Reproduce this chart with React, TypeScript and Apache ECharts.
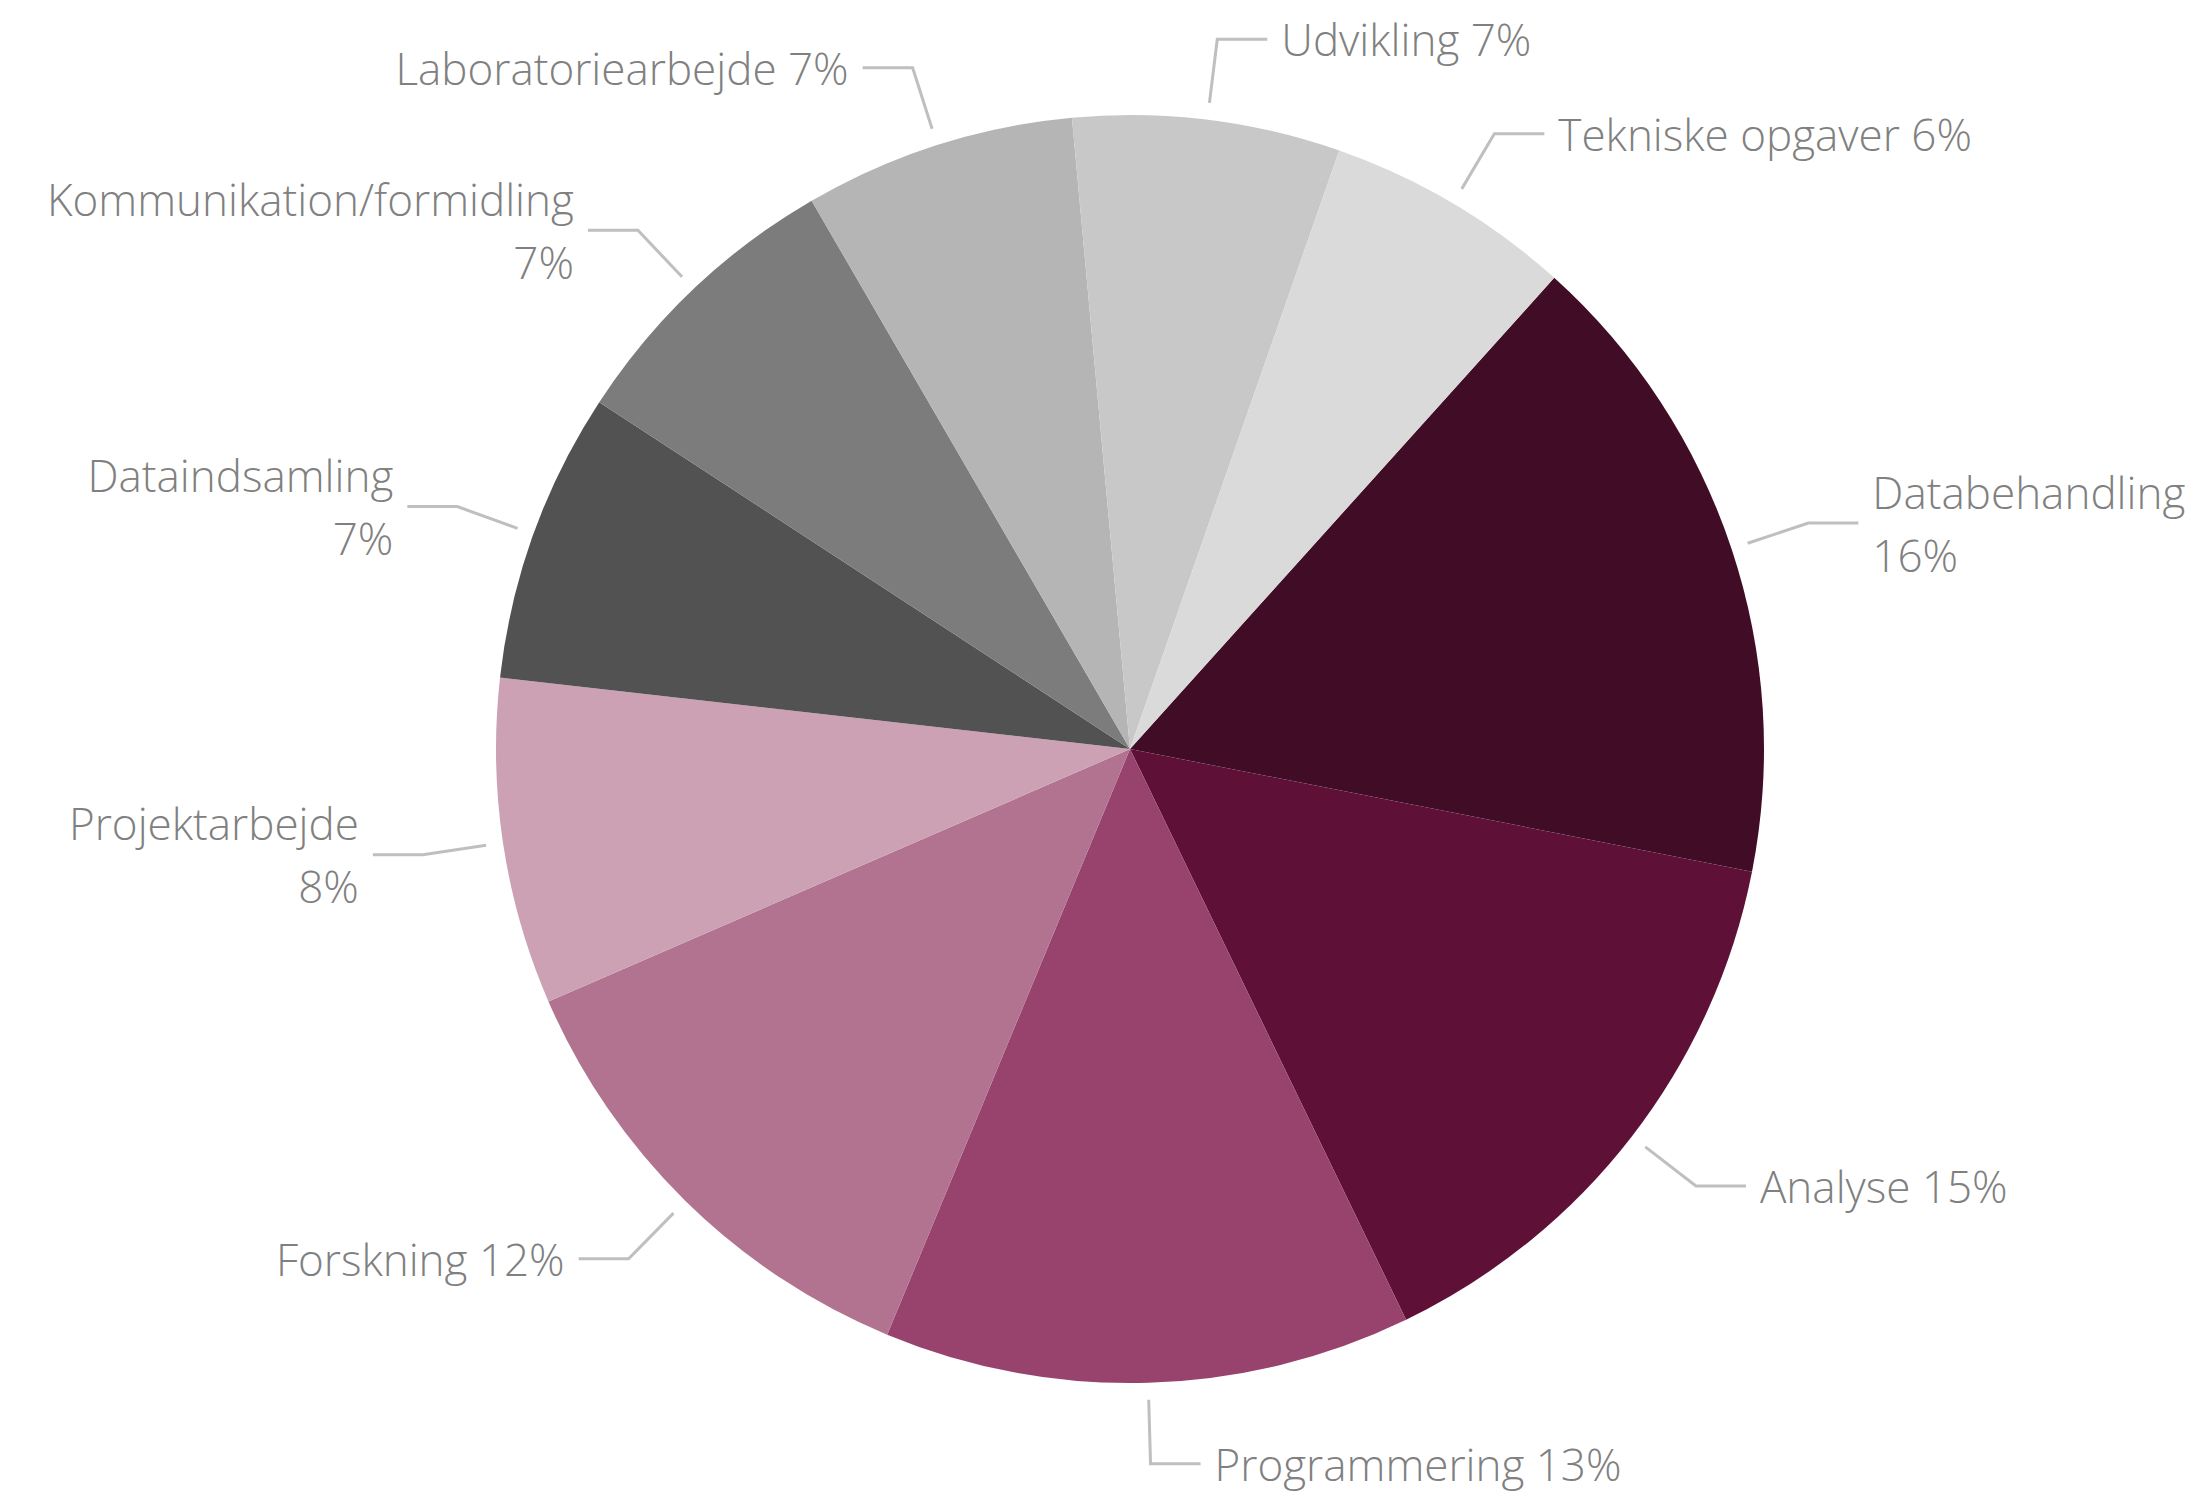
import React, { useEffect, useRef } from "react";
import * as echarts from "echarts";

const categories = [
  "Databehandling",
  "Analyse",
  "Programmering",
  "Forskning",
  "Projektarbejde",
  "Dataindsamling",
  "Kommunikation/formidling",
  "Laboratoriearbejde",
  "Udvikling",
  "Tekniske opgaver",
];
const values = [16.4, 14.7, 13.4, 12.2, 8.3, 7.4, 7.4, 6.9, 6.8, 6.3];
const colors = [
  "#410C26",
  "#5E1037",
  "#98436D",
  "#B17390",
  "#CDA1B4",
  "#525252",
  "#7C7C7C",
  "#B5B5B5",
  "#C8C8C8",
  "#DADADA",
];
const wrapLabel = [true, false, false, false, true, true, true, false, false, false];

export default function App() {
  const ref = useRef<HTMLDivElement>(null);
  useEffect(() => {
    document.body.style.margin = "0";
    const chart = echarts.init(ref.current!, null, { renderer: "svg" });
    const data = categories.map((name, i) => ({
      name,
      value: values[i],
      itemStyle: { color: colors[i] },
    }));
    const center = [1130, 749];
    chart.setOption({
      animation: false,
      backgroundColor: "#ffffff",
      series: [
        {
          type: "pie",
          center,
          radius: 634,
          startAngle: 48,
          clockwise: true,
          avoidLabelOverlap: false,
          silent: true,
          label: { show: false },
          labelLine: { show: false },
          itemStyle: { borderWidth: 0 },
          data,
        },
        {
          type: "pie",
          center,
          radius: 651,
          startAngle: 48,
          clockwise: true,
          avoidLabelOverlap: false,
          silent: true,
          itemStyle: { color: "rgba(0,0,0,0)", borderWidth: 0 },
          label: {
            show: true,
            position: "outside",
            color: "#808080",
            fontFamily: "'Open Sans', 'Noto Sans', sans-serif",
            fontWeight: 300,
            fontSize: 44,
            lineHeight: 63,
            distanceToLabelLine: 14,
            formatter: (p: any) => {
              const pct = Math.round(p.percent) + "%";
              return wrapLabel[p.dataIndex] ? p.name + "\n" + pct : p.name + " " + pct;
            },
          },
          labelLine: {
            show: true,
            length: 64,
            length2: 50,
            lineStyle: { color: "#BFBFBF", width: 3 },
          },
          data: categories.map((name, i) => ({
            name,
            value: values[i],
            itemStyle: { color: "rgba(0,0,0,0)" },
          })),
        },
      ],
    });
    return () => chart.dispose();
  }, []);
  return <div ref={ref} style={{ width: 2192, height: 1493 }} />;
}
